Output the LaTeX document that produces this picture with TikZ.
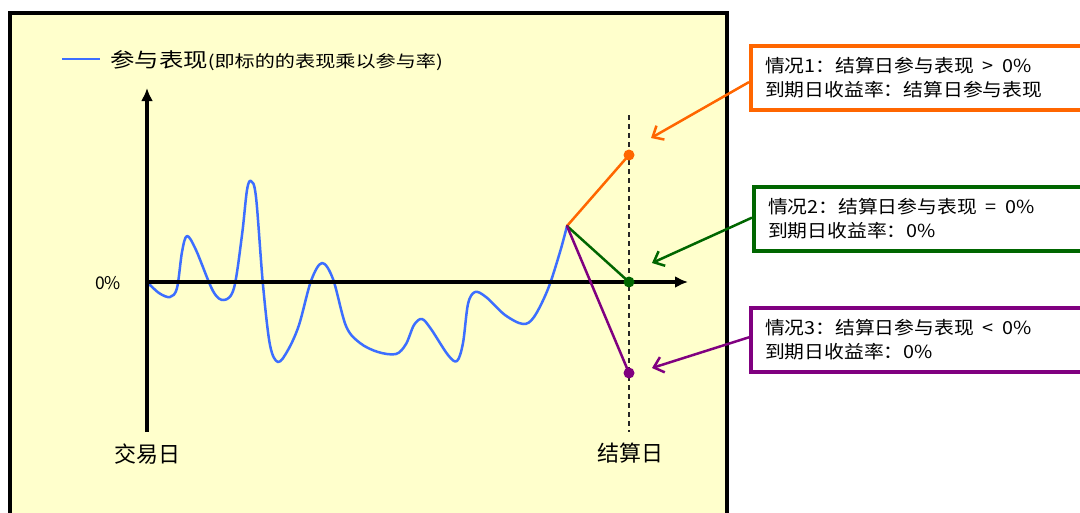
\documentclass[tikz,border=0pt]{standalone}
\usepackage{fontspec}
\newfontfamily\cjk{Noto Sans CJK SC}
\newfontfamily\cjkx[FakeStretch=1.1]{Noto Sans CJK SC}
\newfontfamily\cjkxx[FakeStretch=1.22]{Noto Sans CJK SC}
\usetikzlibrary{arrows.meta,calc}
\definecolor{panelbg}{RGB}{255,255,204}
\definecolor{curveblue}{RGB}{60,110,255}
\definecolor{caseorange}{RGB}{255,102,0}
\definecolor{casegreen}{RGB}{0,102,0}
\definecolor{casepurple}{RGB}{128,0,128}
\begin{document}
\begin{tikzpicture}[x=1pt,y=-1pt,
  axis/.style={line width=3.5pt,-{Latex[length=13pt,width=12pt]}},
  curve/.style={curveblue,line width=2.5pt,line join=round,line cap=round},
  branch/.style={line width=2.5pt,line cap=round},
  dot/.style={circle,fill,inner sep=0pt,minimum size=11pt},
  casebox/.style={line width=4pt,fill=white,anchor=north west,text width=340pt,
    inner xsep=14pt,align=left,minimum height=64pt,font=\cjkx\fontsize{18}{24}\selectfont},
  pointer/.style={line width=2.5pt,-{Straight Barb[length=9pt,width=16pt]}},
  lbl/.style={inner sep=0pt,font=\cjk\fontsize{22}{22}\selectfont}]
\useasboundingbox (0,0) rectangle (1080,512);
\clip (0,0) rectangle (1080,512);
% panel
\draw[line width=4pt,fill=panelbg] (10,13) rectangle (727,560);
% legend
\coordinate (lgA) at (62,59);
\coordinate (lgB) at (100,59);
\draw[curveblue,line width=2.5pt] (lgA) -- (lgB);
\node[anchor=west,inner sep=0pt] (legend) at (110,61)
  {{\cjkxx\fontsize{20}{20}\selectfont 参与表现}{\cjkxx\fontsize{16.5}{16.5}\selectfont (即标的的表现乘以参与率)}};
% coordinates
\coordinate (O) at (147,282);
\coordinate (ytop) at (147,88);
\coordinate (ybot) at (147,432);
\coordinate (xend) at (688,282);
\coordinate (B) at (567,226);
\coordinate (dtop) at (629,115);
\coordinate (dbot) at (629,432);
% dashed settlement line
\draw[line width=1.2pt,dash pattern=on 5pt off 4pt,black!85] (dtop) -- (dbot);
% curve
\draw[curve] plot[smooth,tension=0.55] coordinates {
 (147,282) (159,293) (170,297) (177,288) (182,252) (187,236) (196,250) (213,291) (224,300)
 (234,288) (242,235) (247,190) (251,181) (256,197) (263,285) (270,345) (278,362) (288,350)
 (299,325) (311,281) (322,263) (333,279) (346,326) (360,343) (378,352) (396,354) (406,344)
 (414,325) (422,319) (431,329) (448,355) (457,361) (463,343) (468,304) (475,292) (486,297)
 (505,315) (523,324) (534,317) (548,289) (560,252) (567,226)};
% axes
\draw[axis] (ybot) -- (ytop);
\draw[axis] (O) -- (xend);
% end points
\node[dot,caseorange] (po) at (629,155) {};
\node[dot,casegreen] (pg) at (629,282) {};
\node[dot,casepurple] (pp) at (629,373) {};
\draw[branch,caseorange] (B) -- (po.center);
\draw[branch,casegreen] (B) -- (pg.center);
\draw[branch,casepurple] (B) -- (pp.center);
% axis labels
\node[lbl] (zero) at (108,283) {\fontsize{17.5}{17.5}\selectfont 0\%};
\node[lbl] (trade) at (147,454) {交易日};
\node[lbl] (settle) at (630,453) {结算日};
% case boxes
\node[casebox,draw=caseorange] (bo) at (749,44) {情况1：结算日参与表现 \,>\, 0\%\\到期日收益率：结算日参与表现};
\node[casebox,draw=casegreen] (bg) at (752,185) {情况2：结算日参与表现 \,=\, 0\%\\到期日收益率：0\%};
\node[casebox,draw=casepurple] (bp) at (749,306) {情况3：结算日参与表现 \,<\, 0\%\\到期日收益率：0\%};
% pointers
\coordinate (to) at (651,138);
\coordinate (tg) at (652,263);
\coordinate (tp) at (652,368);
\draw[pointer,caseorange] ($(bo.north west)!0.56!(bo.south west)$) -- (to);
\draw[pointer,casegreen] ($(bg.north west)!0.48!(bg.south west)$) -- (tg);
\draw[pointer,casepurple] ($(bp.north west)!0.46!(bp.south west)$) -- (tp);
\end{tikzpicture}
\end{document}
